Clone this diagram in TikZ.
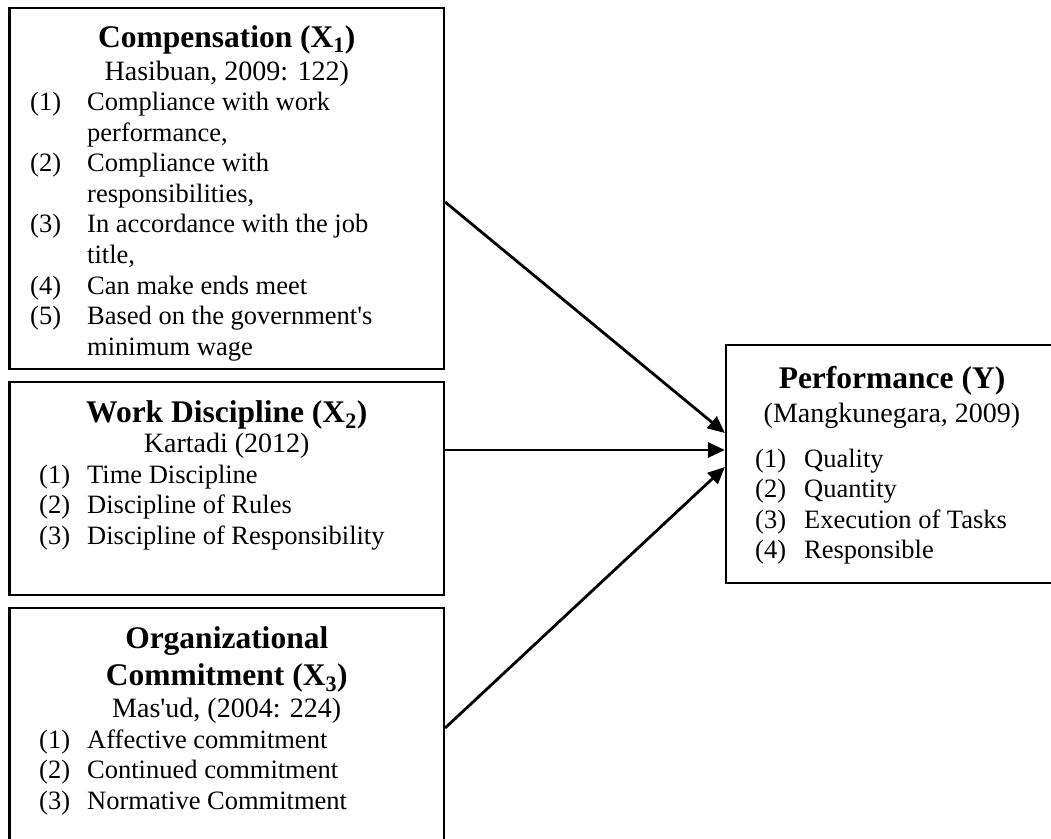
\documentclass[tikz,border=0pt]{standalone}
\usepackage{fontspec}
\setmainfont{Liberation Serif}
\usetikzlibrary{arrows.meta}

\tikzset{
  frame/.style={draw, line width=2.2pt, rectangle, inner sep=0pt},
  ttl/.style={font=\fontsize{31.5}{37}\selectfont\bfseries, anchor=base, inner sep=0pt},
  src/.style={font=\fontsize{28}{32}\selectfont, anchor=base, inner sep=0pt},
  txt/.style={font=\fontsize{26.5}{30.6}\selectfont, anchor=base west, inner sep=0pt},
  link/.style={line width=2.8pt, -{Triangle[length=17pt,width=15pt]}},
}

\begin{document}
\begin{tikzpicture}[x=1pt, y=-1pt]
  \useasboundingbox (0,0) rectangle (1051,838);
  \clip (0,0) rectangle (1051,838);

  % Frames of the four variables
  \node[frame, minimum width=434.5pt, minimum height=361pt] (b1) at (226.75,188.5) {};
  \node[frame, minimum width=434.5pt, minimum height=213pt] (b2) at (226.75,488.5) {};
  \node[frame, minimum width=434.5pt, minimum height=252pt] (b3) at (226.75,734) {};
  \node[frame, minimum width=332pt,   minimum height=238pt] (by) at (892,464) {};

  % Compensation (X1)
  \node[ttl] (b1t) at (226.75,47) {Compensation (X\textsubscript{1})};
  \node[src] (b1s) at (226.75,80) {Hasibuan, 2009: 122)};
  \node[txt] (b1n1) at (30,110)   {(1)};
  \node[txt] (b1i1) at (87,110)   {Compliance with work};
  \node[txt] (b1i1b) at (87,141)  {performance,};
  \node[txt] (b1n2) at (30,171)   {(2)};
  \node[txt] (b1i2) at (87,171)   {Compliance with};
  \node[txt] (b1i2b) at (87,202)  {responsibilities,};
  \node[txt] (b1n3) at (30,232)   {(3)};
  \node[txt] (b1i3) at (87,232)   {In accordance with the job};
  \node[txt] (b1i3b) at (87,263)  {title,};
  \node[txt] (b1n4) at (30,294)   {(4)};
  \node[txt] (b1i4) at (87,294)   {Can make ends meet};
  \node[txt] (b1n5) at (30,324)   {(5)};
  \node[txt] (b1i5) at (87,324)   {Based on the government\textquotesingle s};
  \node[txt] (b1i5b) at (87,355)  {minimum wage};

  % Work Discipline (X2)
  \node[ttl] (b2t) at (226.75,422) {Work Discipline (X\textsubscript{2})};
  \node[src] (b2s) at (226.75,452) {Kartadi (2012)};
  \node[txt] (b2n1) at (39,483)   {(1)};
  \node[txt] (b2i1) at (87,483)   {Time Discipline};
  \node[txt] (b2n2) at (39,513.6) {(2)};
  \node[txt] (b2i2) at (87,513.6) {Discipline of Rules};
  \node[txt] (b2n3) at (39,544.2) {(3)};
  \node[txt] (b2i3) at (87,544.2) {Discipline of Responsibility};

  % Organizational Commitment (X3)
  \node[ttl] (b3t) at (226.75,648) {Organizational};
  \node[ttl] (b3tb) at (226.75,685) {Commitment (X\textsubscript{3})};
  \node[src] (b3s) at (226.75,717) {Mas\textquotesingle ud, (2004: 224)};
  \node[txt] (b3n1) at (39,748)   {(1)};
  \node[txt] (b3i1) at (87,748)   {Affective commitment};
  \node[txt] (b3n2) at (39,778.6) {(2)};
  \node[txt] (b3i2) at (87,778.6) {Continued commitment};
  \node[txt] (b3n3) at (39,809.2) {(3)};
  \node[txt] (b3i3) at (87,809.2) {Normative Commitment};

  % Performance (Y)
  \node[ttl] (byt) at (892,388) {Performance (Y)};
  \node[src] (bys) at (892,422) {(Mangkunegara, 2009)};
  \node[txt] (byn1) at (755,467)   {(1)};
  \node[txt] (byi1) at (804,467)   {Quality};
  \node[txt] (byn2) at (755,497.6) {(2)};
  \node[txt] (byi2) at (804,497.6) {Quantity};
  \node[txt] (byn3) at (755,528.2) {(3)};
  \node[txt] (byi3) at (804,528.2) {Execution of Tasks};
  \node[txt] (byn4) at (755,558.8) {(4)};
  \node[txt] (byi4) at (804,558.8) {Responsible};

  % Influence paths
  \draw[link] ([yshift=-13.5pt]b1.east) -- ([yshift=31pt]by.west);
  \draw[link] ([yshift=38.5pt]b2.east) -- ([yshift=14pt]by.west);
  \draw[link] ([yshift=6pt]b3.east) -- ([yshift=-3pt]by.west);
\end{tikzpicture}
\end{document}
